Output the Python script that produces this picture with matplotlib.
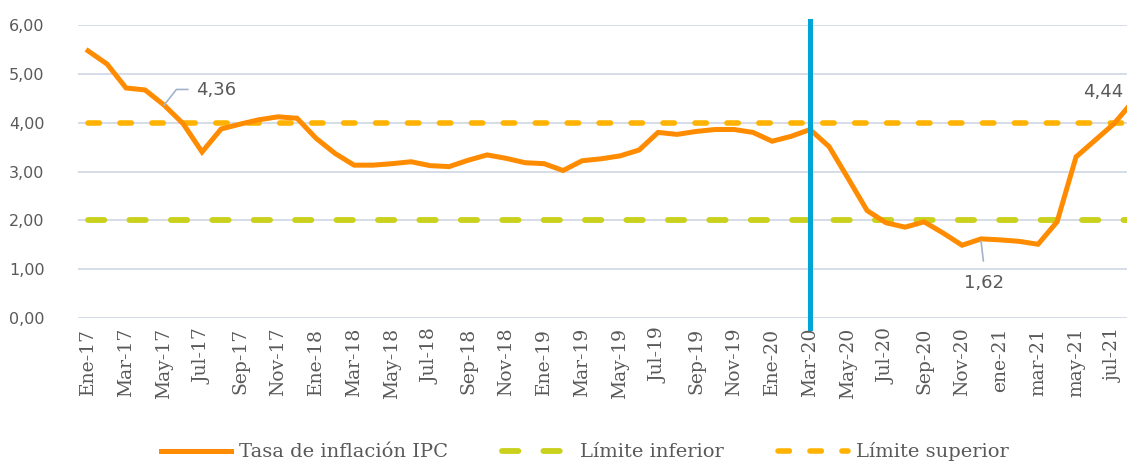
import matplotlib
matplotlib.use("Agg")
import matplotlib.pyplot as plt
import numpy as np

# monthly CPI inflation, Ene-17 .. Ago-21 (last point falls just past the crop)
inflacion = [5.47, 5.20, 4.71, 4.67, 4.36, 3.98, 3.40, 3.87, 3.97, 4.06,
             4.12, 4.09, 3.68, 3.37, 3.13, 3.13, 3.16, 3.20, 3.12, 3.10,
             3.23, 3.34, 3.27, 3.18, 3.16, 3.02, 3.22, 3.26, 3.32, 3.44,
             3.80, 3.76, 3.82, 3.86, 3.86, 3.80, 3.62, 3.72, 3.86, 3.51,
             2.86, 2.20, 1.95, 1.86, 1.97, 1.74, 1.49, 1.62, 1.60, 1.57,
             1.51, 1.97, 3.30, 3.64, 3.98, 4.44]
lim_inf = [2.0] * len(inflacion)
lim_sup = [4.0] * len(inflacion)
tick_labels = ["Ene-17", "Mar-17", "May-17", "Jul-17", "Sep-17", "Nov-17",
               "Ene-18", "Mar-18", "May-18", "Jul-18", "Sep-18", "Nov-18",
               "Ene-19", "Mar-19", "May-19", "Jul-19", "Sep-19", "Nov-19",
               "Ene-20", "Mar-20", "May-20", "Jul-20", "Sep-20", "Nov-20",
               "ene-21", "mar-21", "may-21", "jul-21"]
marca_mes = 38  # Mar-20
etiquetas = [(4, "4,36"), (47, "1,62"), (55, "4,44")]

x = np.arange(len(inflacion))
txt = "#595959"

fig = plt.figure(figsize=(11.27, 4.63), dpi=100)
ax = fig.add_axes([78 / 1127, 145 / 463, 1049 / 1127, 293 / 463])

for v in range(7):
    ax.axhline(v, color="#D3DAE6", lw=1.3, zorder=0)

l1, = ax.plot(x, inflacion, color="#FF8C00", lw=3.6, solid_joinstyle="miter",
              label="Tasa de inflación IPC", zorder=3)
l2, = ax.plot(x, lim_inf, color="#C9D11C", lw=4.2, dashes=(2.8, 4.3),
              dash_capstyle="round", label="Límite inferior", zorder=2)
l3, = ax.plot(x, lim_sup, color="#FFB300", lw=4.0, dashes=(2.05, 3.7),
              dash_capstyle="round", label="Límite superior", zorder=2)

ax.axvline(marca_mes, ymin=-0.035, ymax=1.015, color="#00A5D8", lw=3.6,
           clip_on=False, zorder=4)

# data labels with leader lines
lead = "#A3B3CC"
i, t = etiquetas[0]
ax.plot([i, i + 0.65, i + 1.25], [inflacion[i], inflacion[i] + 0.32, inflacion[i] + 0.32],
        color=lead, lw=1.2, zorder=4)
ax.text(i + 1.7, inflacion[i] + 0.30, t, color=txt, fontsize=13, va="center",
        ha="left", family="DejaVu Sans")
i, t = etiquetas[1]
ax.plot([i, i + 0.12], [inflacion[i] - 0.05, inflacion[i] - 0.45], color=lead, lw=1.2, zorder=4)
ax.text(i + 0.15, inflacion[i] - 0.9, t, color=txt, fontsize=13, va="center",
        ha="center", family="DejaVu Sans")
i, t = etiquetas[2]
ax.text(i - 1.55, inflacion[i] + 0.18, t, color=txt, fontsize=13, va="center",
        ha="center", family="DejaVu Sans")

ax.set_xlim(-0.53, 54.68)
ax.set_ylim(0, 6)
ax.set_yticks(range(7))
ax.set_yticklabels([f"{v},00" for v in range(7)], family="DejaVu Sans",
                   fontsize=11.5, color=txt)
ax.set_xticks(x[:55:2])
ax.set_xticklabels(tick_labels, rotation=90, family="DejaVu Serif",
                   fontsize=13.5, color=txt)
ax.tick_params(axis="y", length=0, pad=24)
ax.tick_params(axis="x", length=0, pad=7)
for s in ax.spines.values():
    s.set_visible(False)

fig.legend(handles=[l1, l2, l3], loc="center", bbox_to_anchor=(0.519, 0.024),
           ncol=3, frameon=False, handlelength=3.6, handletextpad=0.4,
           columnspacing=2.8, prop={"family": "DejaVu Serif", "size": 14},
           labelcolor=txt)

fig.savefig("out.png", dpi=100)
